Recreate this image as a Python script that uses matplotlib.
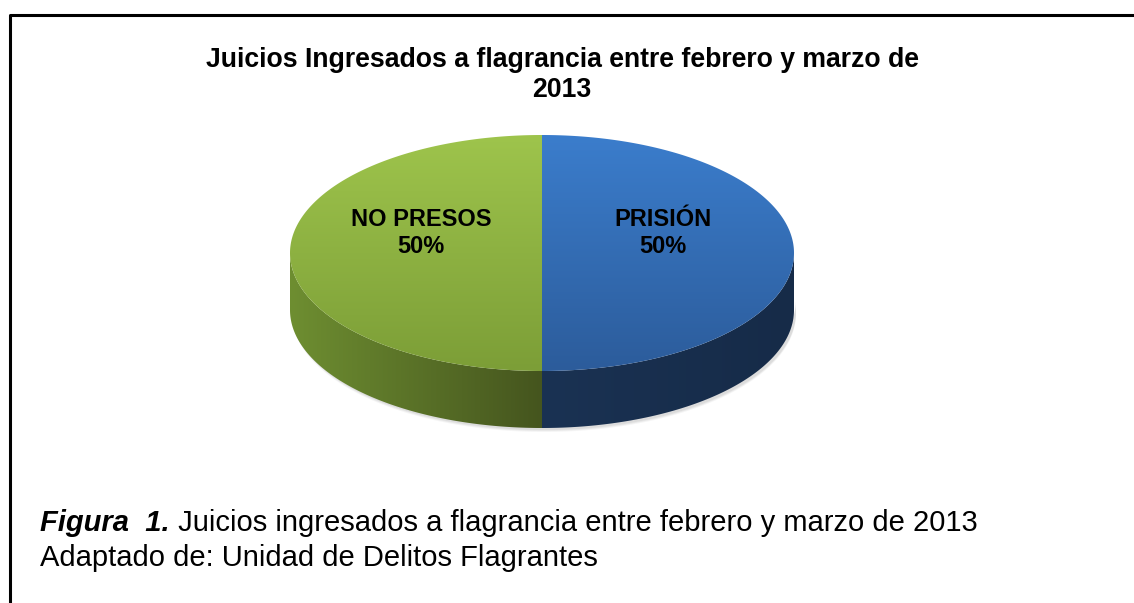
import matplotlib.pyplot as plt
import numpy as np
from matplotlib.patches import Polygon
from matplotlib.colors import LinearSegmentedColormap

# datos del grafico
categorias = ["PRISIÓN", "NO PRESOS"]
valores = [50, 50]
titulo = "Juicios Ingresados a flagrancia entre febrero y marzo de\n2013"
pie_figura = "Juicios ingresados a flagrancia entre febrero y marzo de 2013"
fuente = "Adaptado de: Unidad de Delitos Flagrantes"

# colores: cara superior (arriba, abajo) y lado (izq, der)
color_top = {"PRISIÓN": ("#3b7dcc", "#2c5c9b"), "NO PRESOS": ("#9ec44c", "#7c9e37")}
color_lado = {"PRISIÓN": ("#1a3253", "#162b48"), "NO PRESOS": ("#6e8e31", "#45551e")}

plt.rcParams['font.family'] = ['Liberation Sans', 'DejaVu Sans']

W, H = 1134, 603
fig = plt.figure(figsize=(W / 100, H / 100), dpi=100)
ax = fig.add_axes([0, 0, 1, 1])
ax.set_xlim(0, W)
ax.set_ylim(H, 0)
ax.axis('off')

# marco (solo arriba e izquierda)
ax.plot([10, 10, W], [H, 15, 15], color='black', lw=2.2, solid_capstyle='butt')

# geometria del pastel
cx, cy = 542, 253
rx, ry = 252, 118
prof = 57


def punto(theta):
    # angulo en grados, desde las 12 en sentido horario
    t = np.radians(theta)
    return cx + rx * np.sin(t), cy - ry * np.cos(t)


def degradado(patch, c1, c2, vertical, ext):
    cmap = LinearSegmentedColormap.from_list("g", [c1, c2])
    g = np.linspace(0, 1, 256)
    img = g[:, None] if vertical else g[None, :]
    x0, x1, y0, y1 = ext
    im = ax.imshow(img, cmap=cmap, extent=(x0, x1, y1, y0), aspect='auto',
                   interpolation='bilinear', zorder=patch.get_zorder())
    im.set_clip_path(patch)


total = sum(valores)
angulos = np.concatenate([[0], np.cumsum(valores) / total * 360])

# sombra suave bajo el pastel
th = np.linspace(90, 270, 200)
for k, a in enumerate([0.05, 0.05, 0.04]):
    xs, ys = punto(th)
    sh = Polygon(np.column_stack([np.r_[xs, xs[::-1]] + 2,
                                  np.r_[ys + prof + 2 + k, ys[::-1] + prof - 10]]),
                 closed=True, fc='black', ec='none', alpha=a, zorder=1)
    ax.add_patch(sh)

for i, cat in enumerate(categorias):
    a0, a1 = angulos[i], angulos[i + 1]
    # lado visible (mitad frontal: 90 a 270 grados)
    l0, l1 = max(a0, 90), min(a1, 270)
    if l1 > l0:
        th = np.linspace(l0, l1, 200)
        xs, ys = punto(th)
        verts = np.column_stack([np.r_[xs, xs[::-1]], np.r_[ys, ys[::-1] + prof]])
        lado = Polygon(verts, closed=True, fc='none', ec='none', zorder=2)
        ax.add_patch(lado)
        izq, der = color_lado[cat]
        degradado(lado, izq, der, False, (xs.min(), xs.max(), cy, cy + ry + prof))
    # cara superior
    th = np.linspace(a0, a1, 300)
    xs, ys = punto(th)
    verts = np.column_stack([np.r_[cx, xs], np.r_[cy, ys]])
    cara = Polygon(verts, closed=True, fc='none', ec='none', zorder=3)
    ax.add_patch(cara)
    c1, c2 = color_top[cat]
    degradado(cara, c1, c2, True, (cx - rx, cx + rx, cy - ry, cy + ry))
    # etiqueta
    mid = (a0 + a1) / 2
    t = np.radians(mid)
    lx = cx + 0.48 * rx * np.sin(t)
    ly = cy - 0.48 * ry * np.cos(t) - 20
    ax.text(lx, ly, f"{cat}\n{valores[i] / total:.0%}", ha='center', va='center',
            fontsize=17, fontweight='bold', color='black', linespacing=1.25, zorder=5)

# titulo
ax.text(562, 75, titulo, ha='center', va='center', fontsize=19.2,
        fontweight='bold', linespacing=1.2)

# pie de figura
t1 = ax.text(40, 523, "Figura  1.", ha='left', va='center', fontsize=21,
             fontweight='bold', fontstyle='italic')
ax.annotate(" " + pie_figura, xy=(1, 0), xycoords=t1, ha='left', va='bottom',
            fontsize=21)
ax.text(40, 558, fuente, ha='left', va='center', fontsize=21)

fig.savefig("out.png", dpi=100)
